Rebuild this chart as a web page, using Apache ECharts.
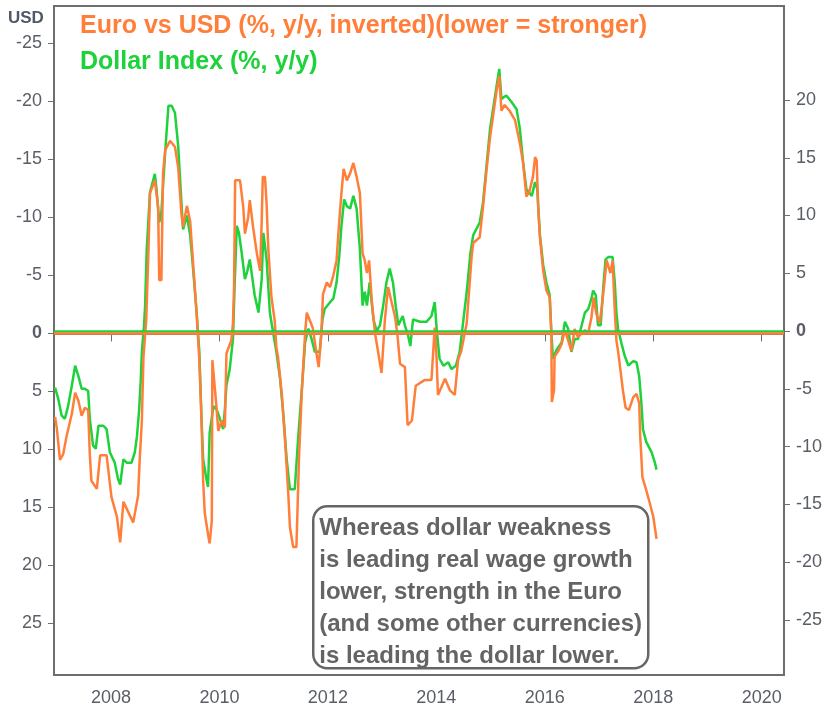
<!DOCTYPE html>
<html>
<head>
<meta charset="utf-8">
<script src="https://cdn.jsdelivr.net/npm/echarts@6/dist/echarts.min.js"></script>
<style>
  html, body { margin: 0; padding: 0; background: #fff; }
  #chart { width: 825px; height: 710px; }
</style>
</head>
<body>
<div id="chart"></div>
<script>
// Euro vs USD (%, y/y, inverted) -> left axis (inverted)
const euroYears = [
  2006.97, 2007.00, 2007.06, 2007.12, 2007.18, 2007.28, 2007.34, 2007.40, 2007.46, 2007.52,
  2007.58, 2007.61, 2007.64, 2007.74, 2007.80, 2007.92, 2008.01, 2008.11, 2008.17, 2008.23,
  2008.32, 2008.41, 2008.50, 2008.53, 2008.57, 2008.60, 2008.65, 2008.69, 2008.72, 2008.81,
  2008.87, 2008.89, 2008.93, 2008.96, 2009.00, 2009.09, 2009.18, 2009.24, 2009.30, 2009.33,
  2009.40, 2009.46, 2009.52, 2009.58, 2009.63, 2009.67, 2009.70, 2009.73, 2009.79, 2009.82,
  2009.86, 2009.87, 2009.90, 2009.94, 2009.98, 2010.04, 2010.10, 2010.13, 2010.22, 2010.25,
  2010.27, 2010.29, 2010.38, 2010.44, 2010.47, 2010.53, 2010.56, 2010.62, 2010.69, 2010.75,
  2010.78, 2010.80, 2010.84, 2010.87, 2010.90, 2010.96, 2011.02, 2011.05, 2011.08, 2011.15,
  2011.21, 2011.27, 2011.30, 2011.36, 2011.42, 2011.47, 2011.52, 2011.58, 2011.61, 2011.67,
  2011.72, 2011.79, 2011.83, 2011.88, 2011.91, 2011.98, 2012.04, 2012.10, 2012.16, 2012.21,
  2012.25, 2012.29, 2012.35, 2012.41, 2012.47, 2012.53, 2012.59, 2012.64, 2012.68, 2012.72,
  2012.76, 2012.81, 2012.87, 2012.93, 2012.99, 2013.05, 2013.11, 2013.17, 2013.24, 2013.28,
  2013.33, 2013.42, 2013.47, 2013.55, 2013.62, 2013.79, 2013.91, 2013.97, 2014.00, 2014.03,
  2014.16, 2014.25, 2014.34, 2014.40, 2014.46, 2014.56, 2014.59, 2014.65, 2014.68, 2014.80,
  2014.86, 2014.93, 2014.99, 2015.05, 2015.11, 2015.16, 2015.20, 2015.26, 2015.35, 2015.45,
  2015.54, 2015.60, 2015.66, 2015.72, 2015.78, 2015.82, 2015.85, 2015.88, 2015.91, 2015.97,
  2016.03, 2016.09, 2016.12, 2016.13, 2016.17, 2016.18, 2016.25, 2016.31, 2016.37, 2016.43,
  2016.49, 2016.55, 2016.61, 2016.68, 2016.74, 2016.80, 2016.86, 2016.90, 2016.95, 2017.01,
  2017.05, 2017.09, 2017.14, 2017.17, 2017.21, 2017.25, 2017.29, 2017.32, 2017.35, 2017.38,
  2017.44, 2017.49, 2017.55, 2017.63, 2017.69, 2017.74, 2017.76, 2017.80, 2017.87, 2017.94,
  2018.00, 2018.06
];
const euroVals = [
  7.2, 8.1, 10.9, 10.4, 8.9, 6.9, 5.1, 5.8, 7.1, 6.4,
  6.6, 10.4, 12.7, 13.4, 10.5, 10.5, 14.1, 15.8, 18.0, 14.5,
  15.4, 16.3, 14.0, 10.9, 7.5, 2.0, -1.1, -6.9, -12.1, -13.2,
  -10.9, -4.6, -4.6, -13.8, -15.8, -16.6, -16.1, -14.3, -10.3, -9.2,
  -11.0, -9.7, -5.7, -1.7, 2.3, 7.5, 12.7, 15.5, 17.3, 18.1,
  16.1, 2.3, 2.3, 6.0, 8.4, 7.5, 8.1, 1.7, 0.6, -0.9,
  -4.0, -13.2, -13.2, -10.9, -8.6, -10.0, -11.5, -9.2, -6.9, -5.4,
  -9.7, -13.5, -13.5, -11.2, -7.4, -3.1, -1.1, 1.2, 2.0, 5.2,
  9.2, 13.8, 16.7, 18.4, 18.4, 10.4, 5.0, 0.0, -1.8, -1.1,
  -0.5, 1.7, 2.9, 0.0, -3.4, -4.4, -4.0, -5.0, -6.3, -9.7,
  -12.1, -14.2, -13.2, -13.8, -14.7, -13.5, -12.1, -6.9, -6.3, -5.2,
  -6.3, -2.8, 0.0, 1.7, 3.4, -1.1, -4.0, -2.8, -1.4, 0.0,
  2.6, 2.9, 7.9, 7.5, 4.5, 4.0, 4.0, -0.5, 1.7, 5.3,
  3.9, 4.9, 5.3, 2.3, 1.5, -0.9, -2.8, -6.6, -7.8, -8.3,
  -10.9, -14.3, -16.9, -18.9, -20.9, -22.2, -19.2, -19.7, -19.2, -18.4,
  -16.4, -14.7, -11.8, -12.3, -13.5, -15.2, -14.9, -10.6, -8.3, -5.4,
  -3.7, -3.1, 0.0, 5.9, 4.9, 2.0, 1.5, 0.9, -0.3, 0.6,
  1.5, -0.4, 0.3, 0.0, -0.3, 0.0, -1.4, -3.1, -1.7, -0.9,
  -2.3, -4.0, -6.3, -6.4, -5.2, -6.3, -2.0, 0.6, 1.5, 2.6,
  4.9, 6.4, 6.6, 5.5, 5.2, 6.0, 8.9, 12.4, 13.5, 14.7,
  15.8, 17.7
];

// Dollar Index (%, y/y) -> right axis
const dxyYears = [
  2006.97, 2007.03, 2007.09, 2007.15, 2007.21, 2007.28, 2007.34, 2007.40, 2007.46, 2007.52,
  2007.58, 2007.61, 2007.67, 2007.72, 2007.77, 2007.86, 2007.92, 2007.98, 2008.07, 2008.13,
  2008.17, 2008.23, 2008.29, 2008.38, 2008.44, 2008.48, 2008.52, 2008.55, 2008.57, 2008.61,
  2008.63, 2008.66, 2008.72, 2008.81, 2008.84, 2008.89, 2008.93, 2009.00, 2009.06, 2009.12,
  2009.18, 2009.24, 2009.30, 2009.33, 2009.40, 2009.46, 2009.52, 2009.58, 2009.63, 2009.64,
  2009.67, 2009.70, 2009.76, 2009.79, 2009.82, 2009.89, 2009.95, 2010.01, 2010.07, 2010.10,
  2010.13, 2010.19, 2010.25, 2010.28, 2010.32, 2010.36, 2010.41, 2010.47, 2010.51, 2010.56,
  2010.61, 2010.65, 2010.72, 2010.78, 2010.81, 2010.84, 2010.87, 2010.90, 2010.93, 2010.99,
  2011.05, 2011.12, 2011.18, 2011.24, 2011.30, 2011.39, 2011.45, 2011.52, 2011.58, 2011.64,
  2011.70, 2011.76, 2011.85, 2011.90, 2011.94, 2012.04, 2012.10, 2012.16, 2012.21, 2012.25,
  2012.30, 2012.35, 2012.41, 2012.47, 2012.53, 2012.59, 2012.64, 2012.68, 2012.72, 2012.77,
  2012.84, 2012.90, 2012.96, 2013.02, 2013.08, 2013.14, 2013.20, 2013.25, 2013.30, 2013.38,
  2013.42, 2013.48, 2013.52, 2013.57, 2013.70, 2013.82, 2013.91, 2013.97, 2014.01, 2014.06,
  2014.13, 2014.22, 2014.28, 2014.36, 2014.43, 2014.48, 2014.56, 2014.63, 2014.68, 2014.80,
  2014.86, 2014.99, 2015.11, 2015.16, 2015.20, 2015.29, 2015.39, 2015.48, 2015.54, 2015.60,
  2015.66, 2015.76, 2015.82, 2015.86, 2015.91, 2015.97, 2016.03, 2016.09, 2016.12, 2016.15,
  2016.22, 2016.31, 2016.37, 2016.43, 2016.49, 2016.55, 2016.61, 2016.68, 2016.74, 2016.80,
  2016.86, 2016.89, 2016.94, 2016.98, 2017.03, 2017.08, 2017.12, 2017.17, 2017.25, 2017.29,
  2017.32, 2017.35, 2017.41, 2017.47, 2017.54, 2017.63, 2017.69, 2017.74, 2017.78, 2017.81,
  2017.87, 2017.97, 2018.03, 2018.06
];
const dxyVals = [
  -4.9, -5.9, -7.3, -7.6, -6.5, -4.7, -3.0, -3.9, -5.0, -5.0,
  -5.2, -7.6, -9.9, -10.2, -8.2, -8.2, -8.5, -10.5, -11.4, -12.8,
  -13.3, -11.1, -11.4, -11.4, -10.5, -9.1, -6.8, -4.2, -1.8, 0.5,
  2.2, 7.1, 12.0, 13.6, 12.3, 9.4, 10.3, 15.5, 19.5, 19.5,
  18.9, 16.0, 11.1, 8.8, 10.0, 8.3, 5.1, 1.6, -1.8, -3.3,
  -7.6, -11.1, -12.8, -13.5, -8.8, -6.5, -6.8, -7.6, -8.5, -6.8,
  -4.7, -3.3, -0.7, 3.9, 9.1, 8.5, 6.8, 4.5, 5.1, 6.2,
  4.5, 3.1, 1.6, 4.5, 8.5, 8.5, 6.2, 3.9, 1.6, -0.1,
  -1.8, -4.2, -7.3, -11.1, -13.7, -13.7, -9.4, -5.0, -1.0, 0.2,
  -0.7, -1.8, -1.8, 1.0, 1.9, 2.5, 2.8, 4.2, 6.5, 9.1,
  11.4, 10.8, 10.6, 11.7, 10.6, 7.1, 2.2, 3.4, 2.2, 4.2,
  1.0, 0.0, 0.5, 2.2, 4.2, 5.4, 4.2, 2.2, 0.5, 1.3,
  0.5, -0.4, -1.3, 1.0, 0.8, 0.8, 1.3, 2.5, -0.1, -2.4,
  -3.0, -2.7, -3.3, -3.0, -1.8, 0.2, 3.4, 6.8, 8.3, 9.4,
  11.1, 17.5, 21.2, 22.7, 20.1, 20.4, 19.8, 19.2, 17.5, 14.6,
  12.3, 11.7, 12.9, 12.3, 8.3, 5.7, 4.2, 3.1, 0.0, -2.4,
  -1.6, -1.0, 0.8, 0.2, -1.8, -0.7, -0.7, 0.5, 1.6, 1.9,
  2.8, 3.5, 3.1, 0.5, 0.5, 3.9, 6.2, 6.4, 6.4, 4.2,
  1.6, 0.2, -1.0, -2.1, -3.0, -2.6, -2.7, -3.9, -6.2, -8.5,
  -9.6, -10.5, -11.4, -12.0
];

const yearTicks = [2008, 2010, 2012, 2014, 2016, 2018, 2020];
const leftTicks = [-25, -20, -15, -10, -5, 0, 5, 10, 15, 20, 25];
const rightTicks = [-25, -20, -15, -10, -5, 0, 5, 10, 15, 20];

const noteLines = [
  "Whereas dollar weakness",
  "is leading real wage growth",
  "lower, strength in the Euro",
  "(and some other currencies)",
  "is leading the dollar lower."
];

const ORANGE = "#FF7F3A";
const GREEN = "#1DD23A";
const LABEL = "#5a5e66";
const FONT = "Liberation Sans";

const zip = (xs, ys) => xs.map((x, i) => [x, ys[i]]);

const labelStyle = (margin) => ({
  color: LABEL,
  fontFamily: FONT,
  fontSize: 18,
  margin: margin,
  formatter: (v) => (v === 0 ? "{b|0}" : String(v)),
  rich: { b: { fontWeight: "bold", color: LABEL, fontFamily: FONT, fontSize: 18 } }
});

const chart = echarts.init(document.getElementById("chart"), null, { renderer: "canvas" });

chart.setOption({
  animation: false,
  backgroundColor: "#fff",
  grid: {
    left: 54, right: 41, top: 6, bottom: 35,
    show: true, borderColor: "#6e6e6e", borderWidth: 2
  },
  xAxis: {
    type: "value",
    min: 2006.95,
    max: 2020.41,
    splitLine: { show: false },
    axisLine: { show: true, lineStyle: { color: "#6e6e6e", width: 2 } },
    axisTick: { show: true, length: 8, customValues: yearTicks, lineStyle: { color: "#6e6e6e" } },
    axisLabel: {
      color: LABEL, fontFamily: FONT, fontSize: 18, margin: 14,
      customValues: yearTicks, formatter: (v) => String(v)
    }
  },
  yAxis: [
    {
      type: "value",
      inverse: true,
      min: -28.23,
      max: 29.44,
      splitLine: { show: false },
      axisLine: { show: true, lineStyle: { color: "#6e6e6e", width: 2 } },
      axisTick: { show: true, length: 6, customValues: leftTicks, lineStyle: { color: "#6e6e6e" } },
      axisLabel: Object.assign(labelStyle(12), { customValues: leftTicks })
    },
    {
      type: "value",
      position: "right",
      min: -29.78,
      max: 28.14,
      splitLine: { show: false },
      axisLine: { show: true, lineStyle: { color: "#6e6e6e", width: 2 } },
      axisTick: { show: true, length: 6, customValues: rightTicks, lineStyle: { color: "#6e6e6e" } },
      axisLabel: Object.assign(labelStyle(12), { customValues: rightTicks })
    }
  ],
  series: [
    {
      name: "Dollar Index (%, y/y)",
      type: "line",
      yAxisIndex: 1,
      data: zip(dxyYears, dxyVals),
      showSymbol: false,
      lineStyle: { color: GREEN, width: 2.5 },
      itemStyle: { color: GREEN },
      z: 2,
      markLine: {
        silent: true, symbol: "none", label: { show: false },
        lineStyle: { color: GREEN, width: 2.5, type: "solid" },
        data: [{ yAxis: 0 }]
      }
    },
    {
      name: "Euro vs USD (%, y/y, inverted)(lower = stronger)",
      type: "line",
      yAxisIndex: 0,
      data: zip(euroYears, euroVals),
      showSymbol: false,
      lineStyle: { color: ORANGE, width: 2.5 },
      itemStyle: { color: ORANGE },
      z: 3,
      markLine: {
        silent: true, symbol: "none", label: { show: false },
        lineStyle: { color: ORANGE, width: 2.5, type: "solid" },
        data: [{ yAxis: 0 }]
      }
    }
  ],
  graphic: [
    {
      type: "text", left: 8, top: 10,
      style: { text: "USD", font: "bold 17px " + FONT, fill: "#4e5866" }
    },
    {
      type: "text", left: 80, top: 14,
      style: { text: "Euro vs USD (%, y/y, inverted)(lower = stronger)", font: "bold 25px " + FONT, fill: ORANGE }
    },
    {
      type: "text", left: 80, top: 50,
      style: { text: "Dollar Index (%, y/y)", font: "bold 25px " + FONT, fill: GREEN }
    },
    {
      type: "group", left: 312, top: 505,
      children: [
        {
          type: "rect",
          shape: { x: 0, y: 0, width: 335, height: 162, r: 14 },
          style: { fill: "#fff", stroke: "#666", lineWidth: 2.5 }
        },
        {
          type: "text", x: 6, y: 6,
          style: {
            text: noteLines.join("\n"),
            font: "bold 24px " + FONT,
            fill: "#646464",
            lineHeight: 32
          }
        }
      ]
    }
  ]
});
</script>
</body>
</html>
